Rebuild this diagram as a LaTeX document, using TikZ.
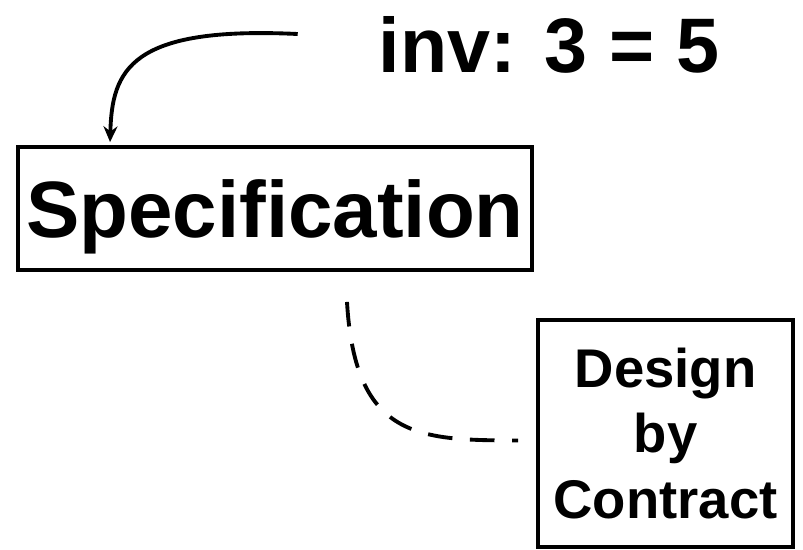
\documentclass[tikz,border=0pt]{standalone}
\usepackage{fontspec}
\setmainfont{Liberation Sans}
\usetikzlibrary{calc,arrows.meta}

\begin{document}
\begin{tikzpicture}[x=0.02cm,y=-0.02cm,
        box/.style={draw,line width=2.2pt,inner sep=0pt,align=center,font=\bfseries},
        link/.style={line width=2.2pt}]
        \useasboundingbox (0,0) rectangle (803,549);
        \node[font=\fontsize{44}{53}\bfseries\selectfont] (inv) at (549,45) {inv: 3 = 5};
        \node[box,minimum width=514*0.02cm,minimum height=123*0.02cm,text height=32.6pt,text depth=0pt,
              font=\fontsize{45.5}{54}\bfseries\selectfont] (spec) at (275,208.5) {Specification};
        \node[box,minimum width=255*0.02cm,minimum height=227*0.02cm,
              font=\fontsize{31}{37.4}\bfseries\selectfont] (dbc) at (665.5,433.5) {Design\\by\\Contract};
        % loose ends of the two connectors
        \coordinate (a) at ($(inv.west)+(-75,-11)$);
        \coordinate (b) at ($(spec.north west)+(94,-3)$);
        \coordinate (c) at ($(spec.south)+(72,30)$);
        \coordinate (d) at ($(dbc.west)+(-18,7)$);
        \draw[link,-{Stealth[length=9pt,width=8pt,inset=3pt]}] (a) .. controls (130,26) and (112,70) .. (b);
        \draw[link,dash pattern=on 14pt off 10pt] (c) .. controls (355,440) and (420,440) .. (d);
\end{tikzpicture}
\end{document}
